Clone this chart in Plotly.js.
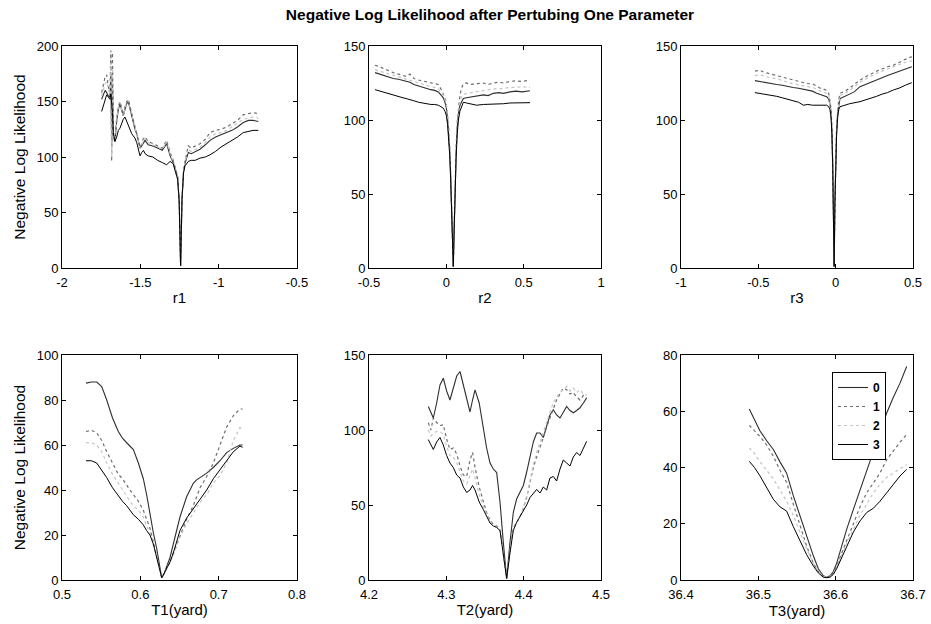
<!DOCTYPE html>
<html>
<head>
<meta charset="utf-8">
<script src="https://cdn.plot.ly/plotly-3.0.1.min.js"></script>
<style>html,body{margin:0;padding:0;background:#fff;}#chart{width:931px;height:624px;}</style>
</head>
<body>
<div id="chart"></div>
<script>
// ---------------- DATA ----------------
const chartTitle = "Negative Log Likelihood after Pertubing One Parameter";
const seriesNames = ["0", "1", "2", "3"];
const yTitle = "Negative Log Likelihood";
const xTitles = ["r1", "r2", "r3", "T1(yard)", "T2(yard)", "T3(yard)"];

// panel r1
const r1X = [-1.747,-1.736,-1.725,-1.715,-1.704,-1.694,-1.688,-1.683,-1.678,-1.672,-1.662,-1.651,-1.640,-1.630,-1.619,-1.609,-1.598,-1.587,-1.577,-1.566,-1.555,-1.545,-1.534,-1.523,-1.513,-1.502,-1.491,-1.480,-1.470,-1.450,-1.420,-1.390,-1.360,-1.332,-1.310,-1.290,-1.275,-1.262,-1.252,-1.243,-1.234,-1.224,-1.215,-1.204,-1.194,-1.175,-1.150,-1.119,-1.085,-1.055,-1.020,-0.985,-0.949,-0.915,-0.880,-0.843,-0.810,-0.780,-0.747];
const r1S0 = [152,156,160,158,155,154,175,110,168,118,114,132,143,148,142,137,143,148,150,144,136,130,125,121,114,108,110,113,115,111,110,108,106,112,101,95,88,82,60,2,62,87,94,100,104,103,105,107,111,115,118,120,122,124,127,131,133,133,132];
const r1S1 = [158,165,172,174,163,158,196,96,194,120,116,135,146,150,144,138,145,150,152,146,138,132,127,122,116,109,112,117,118,114,112,110,108,115,104,97,90,83,60,2,62,88,96,104,110,108,110,112,116,122,124,125,127,130,133,138,139,140,139];
const r1S2 = [155,160,166,168,160,156,185,100,180,119,115,134,145,149,143,137,144,149,151,145,137,131,126,121,115,108,111,115,117,113,111,109,107,114,103,96,89,82,60,2,62,88,95,102,107,105,107,109,113,118,121,122,124,127,130,134,135,136,135];
const r1S3 = [141,146,152,156,154,152,157,150,140,122,114,118,124,126,130,134,136,132,128,124,121,119,117,113,106,101,104,106,103,101,100,97,95,93,96,94,86,80,60,2,62,86,92,94,96,97,97,99,100,102,105,109,112,115,118,122,123,124,124];

// panel r2
const r2X = [-0.461,-0.43,-0.40,-0.37,-0.343,-0.31,-0.28,-0.26,-0.235,-0.21,-0.18,-0.155,-0.127,-0.10,-0.075,-0.052,-0.035,-0.020,-0.009,0.000,0.008,0.015,0.022,0.028,0.034,0.040,0.045,0.050,0.056,0.063,0.070,0.078,0.088,0.100,0.110,0.130,0.155,0.196,0.24,0.27,0.304,0.34,0.37,0.412,0.45,0.49,0.541];
const r2S0 = [132,131,130,129,128,127.5,126.5,126,125.5,124,123,122,121,120.5,120,119,117,115,112,108,101,92,79,63,43,19,1,24,53,77,94,104,110,113,114.5,115,115.5,116,117,116.5,118,118.5,118,119,119.5,119,119.8];
const r2S1 = [137,136,134.5,133,132,131,130,129.5,131,128,127,126.5,125.5,125,124.5,124,121,118,115,111,104,95,82,65,45,20,1,25,55,80,98,109,117,122,124.5,125,124,124.5,125,124,125,125.5,125,126,126.5,126,127];
const r2S2 = [134,133,132,131,130,129,128,127.5,127,126,125,124,123,122.5,122,121,119,117,114,110,103,94,81,64,44,20,1,25,54,78,95,106,113,116,117,118,118.5,119,120,120.5,121,121,121.5,122,122,122.5,122];
const r2S3 = [120.5,119.5,118.5,117.5,117,116,115,114.5,113.5,113,112,111.5,111,110.5,110.5,110,109,108,106,103,97,88,76,60,41,18,1,23,51,74,90,100,106,110,112,111.5,111,110,110.5,110.5,110.5,111,111,111.5,111.5,112,111.7];

// panel r3
const r3X = [-0.522,-0.49,-0.455,-0.42,-0.381,-0.345,-0.31,-0.275,-0.24,-0.209,-0.18,-0.15,-0.123,-0.10,-0.08,-0.058,-0.045,-0.037,-0.030,-0.024,-0.019,-0.015,-0.010,-0.005,0.000,0.006,0.013,0.020,0.028,0.04,0.06,0.09,0.12,0.157,0.19,0.225,0.265,0.30,0.335,0.373,0.41,0.45,0.492];
const r3S0 = [126.6,126,125,124.5,124,123.5,122.5,122,121.5,120.7,120,119.5,118,117,116.5,115.7,114,111,105,92,70,44,1,44,70,92,105,111,114.6,115,116,117,119,122.5,124,125.5,127,128.5,130,131.5,133,134.5,136];
const r3S1 = [133,133.5,132,131,130.4,129,128,127,126,125,124.5,124.5,123,121.5,121,120,118,114,108,95,72,45,1,45,72,95,108,114,118,118.5,119.5,121.5,124,127,129,131,133,134.5,136,137,139,141,142.8];
const r3S2 = [130,130.5,129.5,128.5,128,126.5,125.5,124.5,123.5,123,122.5,122,121,119.5,119,118,116,112,106,93,71,44,1,44,71,93,106,112,116.5,117,118,120,122.5,125.5,127.5,129.5,131.5,133,134.5,136,137.5,139,140];
const r3S3 = [118.5,118,117.5,117,116,115,114,113,112,110,110.5,110,110,109.5,110,110,109,107,102,90,68,42,1,42,68,90,102,107,109,109.5,110,111,111.5,112.4,113.5,114.5,116,117.5,118.5,120.3,121.5,123.5,125.2];

// panel T1
const t1X = [0.5306,0.5375,0.5443,0.5507,0.5571,0.5645,0.5719,0.5772,0.5826,0.5868,0.5911,0.5975,0.6038,0.6080,0.6123,0.6166,0.6209,0.6241,0.6273,0.6305,0.6336,0.6379,0.6421,0.6464,0.6506,0.6591,0.6676,0.6719,0.6762,0.6847,0.6932,0.7017,0.7102,0.7187,0.7272,0.7306];
const t1S0 = [87.5,88,88,86,80,72,66,63,61,59.5,58,52,45,38,29,21,14,8,1,3,6,10,16,22,28,37,43,44.5,45.5,47.5,50,53,56.6,58.5,60,60];
const t1S1 = [66,66.5,65.5,62,57,52,47,45,42,40,38,35,31,27,23,17,11,6,1,3,5,8,12,16,20,27,33,37,41,46,52,60,68,73,76,76];
const t1S2 = [61,61,60,57,52,47,43,40,37.5,35,33,31,28,24,21,16,10,5.5,1,3,5,8,11,15,19,25,30,32.5,34.5,38,43,46.5,52,62,67.7,67];
const t1S3 = [53,53,52,49,45.5,41,37.5,35,33,31,29,27,24.5,22,20,16,10,5.5,1,3,5,8,12,17,22,27.5,31.5,34,36,40,45,49,53,57,59.5,59];

// panel T2
const t2X = [4.2767,4.2800,4.2832,4.2875,4.2918,4.2961,4.3004,4.3047,4.3090,4.3134,4.3177,4.3220,4.3263,4.3306,4.3339,4.3371,4.3425,4.3478,4.3521,4.3565,4.3608,4.3651,4.3694,4.3737,4.3780,4.3823,4.3866,4.3909,4.3952,4.3996,4.4039,4.4082,4.4125,4.4168,4.4211,4.4254,4.4297,4.4340,4.4383,4.4426,4.4470,4.4513,4.4556,4.4599,4.4642,4.4685,4.4728,4.4772,4.4815];
const t2S0 = [115.7,112,108,118,130,134.5,126,120,128,136,139,130,120,112,120,126.8,118,100,88,78,74,71.6,52,25,1,25,45,54,58,63,72,82,92,98,98,95,102,110,113.5,110,108,112,115.7,113,111.5,113,114.8,118,121.4];
const t2S1 = [104.8,100,108,105,103,103.5,94,87,88,84,76,70,69,80,85,75,62,51.7,45,40,37,36,34,18,1,20,35,38,42,48,55,65,75,82,88,95,102,108,115,120,124,128,126.8,124,125,122,120,123,121];
const t2S2 = [100,96,98,99,99,97,89,83,82,78,72,66,64,70,74,68,57,49,44,39,36.5,35.5,33.5,17.5,1,19,34,38,42,48,56,66,77,85,92,99,106,112,118,122,125,127,129,126,128,125,127,124,123];
const t2S3 = [93.6,90,87,92,95,90,83,78,75,70,68,62,58.4,60,63,60,52,47,42,38,36,35,33,17,1,18,33,38.5,42,46,50,55,58,60.4,58,62,60,68,69,66,74,80,78,76,82,85,83,88,92.5];

// panel T3
const t3X = [36.4883,36.4950,36.5022,36.5108,36.5194,36.5280,36.5366,36.5452,36.5539,36.5625,36.5711,36.5776,36.5840,36.5884,36.5927,36.5970,36.6013,36.6056,36.6099,36.6142,36.6228,36.6315,36.6401,36.6487,36.6573,36.6660,36.6746,36.6832,36.6918];
const t3S0 = [60.8,57,53,49.5,46.4,42,38,30,22.8,15,8.6,4,1.5,1,1.5,3,6,10,14,18,25,32,39,46,53,59.4,65,70,75.9];
const t3S1 = [55,53,51,48,44,39,34.7,27,19,12,6,3,1.2,1,1.2,2.5,5,8,11,14,20,26,31,34.5,38,42.8,46,49,51.7];
const t3S2 = [47,45,42,39,36,32,28,23,17,11,6,3,1.2,1,1.2,2.5,4.5,7,10,13,18,23,27,31,34,36.5,38,39.5,41];
const t3S3 = [42.2,40,37,33,28.7,26,24.5,19,14,9,5,2.5,1,0.8,1,2,4,6.5,9,12,17,21,24,25.5,28,31,34,37,39.3];

// axis ranges and tick labels
const xRanges = [[-2,-0.5],[-0.5,1],[-1,0.5],[0.5,0.8],[4.2,4.5],[36.4,36.7]];
const yRanges = [[0,200],[0,150],[0,150],[0,100],[0,150],[0,80]];
const xTickVals = [[-2,-1.5,-1,-0.5],[-0.5,0,0.5,1],[-1,-0.5,0,0.5],[0.5,0.6,0.7,0.8],[4.2,4.3,4.4,4.5],[36.4,36.5,36.6,36.7]];
const xTickText = [["-2","-1.5","-1","-0.5"],["-0.5","0","0.5","1"],["-1","-0.5","0","0.5"],["0.5","0.6","0.7","0.8"],["4.2","4.3","4.4","4.5"],["36.4","36.5","36.6","36.7"]];
const yTickVals = [[0,50,100,150,200],[0,50,100,150],[0,50,100,150],[0,20,40,60,80,100],[0,50,100,150],[0,20,40,60,80]];

// ---------------- RENDER ----------------
const panels = [
  {x: r1X, ys: [r1S0, r1S1, r1S2, r1S3]},
  {x: r2X, ys: [r2S0, r2S1, r2S2, r2S3]},
  {x: r3X, ys: [r3S0, r3S1, r3S2, r3S3]},
  {x: t1X, ys: [t1S0, t1S1, t1S2, t1S3]},
  {x: t2X, ys: [t2S0, t2S1, t2S2, t2S3]},
  {x: t3X, ys: [t3S0, t3S1, t3S2, t3S3]}
];
const styles = [
  {color: '#2e2e2e', width: 1.1, dash: 'solid'},
  {color: '#6e6e6e', width: 1.2, dash: 'dot'},
  {color: '#c4c4c4', width: 1.2, dash: 'dot'},
  {color: '#000000', width: 1.0, dash: 'solid'}
];

const W = 931, H = 624;
const cols = [[62,297],[369,601],[681,913]];
const rows = [[46,268],[355,580]];
const FONT = 'Liberation Sans, Arial, Helvetica, sans-serif';

const traces = [];
panels.forEach((p, i) => {
  const ax = i === 0 ? '' : String(i + 1);
  p.ys.forEach((y, s) => {
    traces.push({
      type: 'scatter', mode: 'lines', x: p.x, y: y,
      name: seriesNames[s], xaxis: 'x' + ax, yaxis: 'y' + ax,
      line: styles[s], showlegend: i === 5, hoverinfo: 'skip'
    });
  });
});

const layout = {
  width: W, height: H,
  margin: {l: 0, r: 0, t: 0, b: 0},
  paper_bgcolor: '#fff', plot_bgcolor: '#fff',
  font: {family: FONT, color: '#000', size: 13},
  showlegend: true,
  title: {text: chartTitle, x: 490 / W, xref: 'paper', xanchor: 'center', y: 1 - 15 / H, yanchor: 'middle',
          font: {family: FONT, size: 15.5, weight: 'bold', color: '#000'}},
  legend: {x: 832 / W, y: 1 - 372 / H, xanchor: 'left', yanchor: 'top', bordercolor: '#000', borderwidth: 1,
           bgcolor: '#fff', font: {family: FONT, size: 12, weight: 'bold', color: '#000'}, tracegroupgap: 0},
  hovermode: false
};

panels.forEach((p, i) => {
  const ax = i === 0 ? '' : String(i + 1);
  const c = cols[i % 3], r = rows[Math.floor(i / 3)];
  const common = {showline: true, linecolor: '#000', linewidth: 1, mirror: 'ticks', ticks: 'inside', ticklen: 4,
                  tickcolor: '#000', zeroline: false, showgrid: false, fixedrange: true,
                  tickfont: {family: FONT, size: 13, color: '#000'}};
  layout['xaxis' + ax] = Object.assign({}, common, {
    domain: [c[0] / W, c[1] / W], anchor: 'y' + ax, range: xRanges[i],
    tickmode: 'array', tickvals: xTickVals[i], ticktext: xTickText[i], ticklabelstandoff: 2,
    title: {text: xTitles[i], font: {family: FONT, size: 15, color: '#000'}, standoff: 3}
  });
  const yax = Object.assign({}, common, {
    domain: [1 - r[1] / H, 1 - r[0] / H], anchor: 'x' + ax, range: yRanges[i],
    tickmode: 'array', tickvals: yTickVals[i]
  });
  if (i % 3 === 0) yax.title = {text: yTitle, font: {family: FONT, size: 15.5, color: '#000'}, standoff: 7};
  layout['yaxis' + ax] = yax;
});

Plotly.newPlot('chart', traces, layout, {staticPlot: true, displayModeBar: false});
</script>
</body>
</html>
